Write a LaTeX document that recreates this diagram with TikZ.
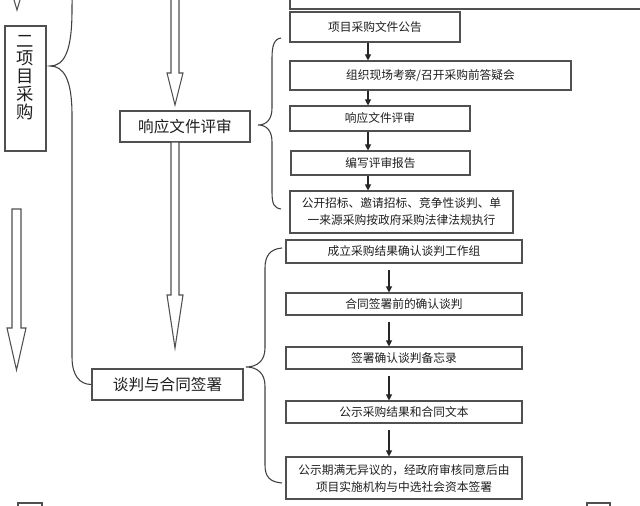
\documentclass[tikz,border=0pt]{standalone}
\usepackage{fontspec}
\setmainfont{Noto Sans CJK SC}
\usetikzlibrary{arrows.meta,positioning,calc}
\definecolor{ln}{RGB}{80,80,80}
\definecolor{tx}{RGB}{30,30,30}
\tikzset{stepbox/.style={draw=ln,line width=.8pt,inner sep=1pt,align=center,text=tx,
   font=\fontsize{8.8pt}{12.75pt}\selectfont},
 bigbox/.style={stepbox,font=\fontsize{11.7pt}{14pt}\selectfont},
 vtxt/.style={align=center,text=tx,inner sep=0pt,font=\fontsize{13pt}{13.4pt}\selectfont},
 sz/.style 2 args={minimum width=#1*.75pt,minimum height=#2*.75pt},
 arr/.style={-{Triangle[length=4.5pt,width=4.5pt]},line width=.8pt,black!85},
 brace/.style={draw=black!75,line width=.8pt},
 harrow/.style={draw=ln,line width=.8pt,fill=white}}
% hollow down arrow: x, top, neck, tip, half shaft, half head
\newcommand\hollowdown[6]{\draw[harrow] (#1-#5,#2) -- (#1-#5,#3) -- (#1-#6,#3) -- (#1,#4)
  -- (#1+#6,#3) -- (#1+#5,#3) -- (#1+#5,#2) -- cycle;}

\begin{document}
\begin{tikzpicture}[x=.75pt,y=-.75pt]
\useasboundingbox (0,0) rectangle (640,506);
\clip (0,0) rectangle (640,506);
% left part
\node[stepbox,sz={41}{125}] (L) at (25.5,88.5) {};
\node[vtxt] at (25,77.5) {二\\项\\目\\采\\购};
\node[bigbox,sz={130}{31}] (M1) at (185,126.5) {响应文件评审};
\node[bigbox,sz={151}{31}] (M2) at (167.5,384.5) {谈判与合同签署};
\hollowdown{17}{-60}{-22}{10}{4.5}{9.5}
\hollowdown{16.5}{209}{328}{370}{4.5}{9.5}
\hollowdown{175}{-10}{73}{105}{4}{8}
\hollowdown{175}{142}{295}{348}{4}{8}
\coordinate (t0) at (50,66);
\draw[brace] (95,-40) .. controls (74,-35) and (72,-20) .. (72,10)
  .. controls (72,52) and (64,66) .. (t0) .. controls (64,66) and (72,80) .. (72,115)
  -- (72,357) .. controls (72,376) and (80,384.5) .. (M2.west);
% review steps
\node[stepbox,sz={370}{30}] (b0) at (475,-6) {};
\node[stepbox,sz={170}{30}] (b1) at (375,27) {项目采购文件公告};
\node[stepbox,sz={281}{29}] (b2) at (430.5,75.5) {组织现场考察/召开采购前答疑会};
\node[stepbox,sz={180}{25}] (b3) at (380,118.5) {响应文件评审};
\node[stepbox,sz={179}{24}] (b4) at (380.5,163) {编写评审报告};
\node[stepbox,sz={223}{42}] (b5) at (401.5,212) {公开招标、邀请招标、竞争性谈判、单\\一来源采购按政府采购法律法规执行};
\coordinate (ua) at (368,0);
\foreach \i/\j in {b1/b2,b2/b3,b3/b4,b4/b5}
  \draw[arr] (\i.south -| ua) -- (\j.north -| ua);
\coordinate (t1) at (258,125);
\draw[brace] (281,38) .. controls (274,39) and (272,46) .. (272,58) -- (272,108)
  .. controls (272,120) and (266,125) .. (t1) .. controls (266,125) and (272,130) .. (272,142)
  -- (272,192) .. controls (272,204) and (274,208) .. (281,209);
% negotiation steps
\node[stepbox,sz={236}{23}] (c1) at (404,251.5) {成立采购结果确认谈判工作组};
\node[stepbox,sz={236}{22}] (c2) at (404,304) {合同签署前的确认谈判};
\node[stepbox,sz={236}{22}] (c3) at (404,358) {签署确认谈判备忘录};
\node[stepbox,sz={236}{22}] (c4) at (404,412) {公示采购结果和合同文本};
\node[stepbox,sz={236}{42}] (c5) at (404,478) {公示期满无异议的，经政府审核同意后由\\项目实施机构与中选社会资本签署};
\coordinate (la) at (389,0);
\foreach \i/\j in {c1/c2,c2/c3,c3/c4,c4/c5}
  \draw[arr,shorten <=5pt] (\i.south -| la) -- (\j.north -| la);
\coordinate (t2) at (246,367);
\draw[brace] (282,248) .. controls (270,249) and (265,256) .. (265,268) -- (265,348)
  .. controls (265,361) and (257,367) .. (t2) .. controls (257,367) and (265,373) .. (265,386)
  -- (265,465) .. controls (265,477) and (270,482) .. (282,483);
% boxes cut at the bottom edge
\node[stepbox,sz={24}{24}] (d1) at (30,515) {};
\node[stepbox,sz={23}{24}] (d2) at (598.5,515) {};
\end{tikzpicture}
\end{document}
